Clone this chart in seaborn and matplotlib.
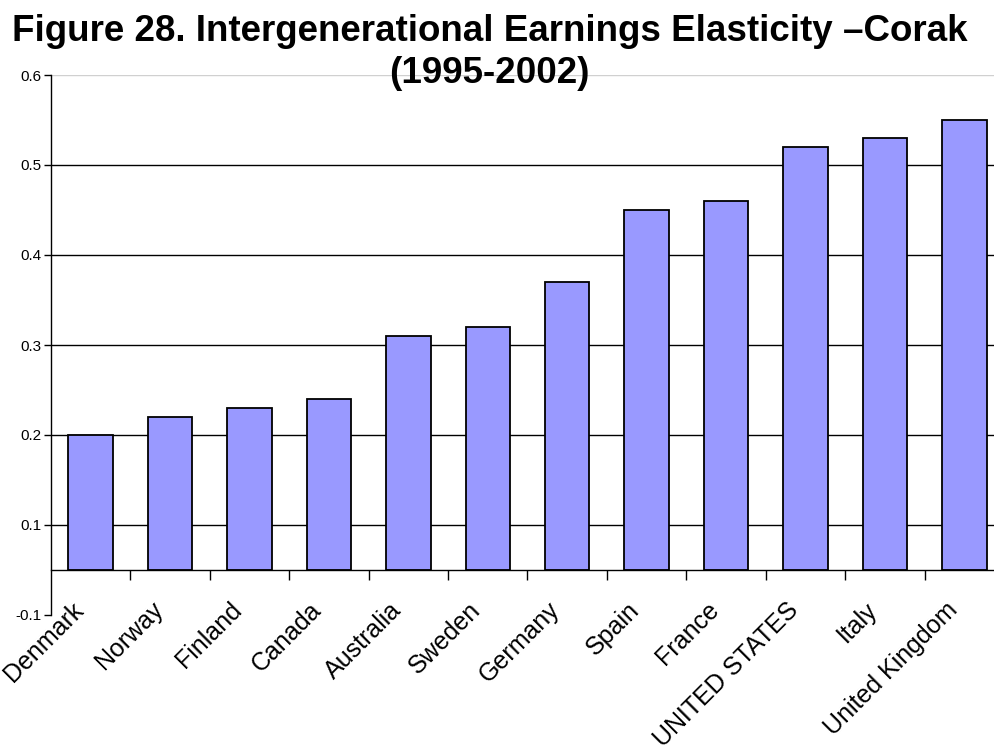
import matplotlib
matplotlib.use("Agg")
import matplotlib.pyplot as plt
import matplotlib.transforms as mtransforms
import seaborn as sns
import pandas as pd

countries = ["Denmark", "Norway", "Finland", "Canada", "Australia", "Sweden",
             "Germany", "Spain", "France", "UNITED STATES", "Italy", "United Kingdom"]
elasticity = [0.20, 0.22, 0.23, 0.24, 0.31, 0.32, 0.37, 0.45, 0.46, 0.52, 0.53, 0.55]
y_ticks = [0.0, 0.1, 0.2, 0.3, 0.4, 0.5, 0.6]
y_tick_labels = ["-0.1", "0.1", "0.2", "0.3", "0.4", "0.5", "0.6"]
baseline = 0.05
title_line1 = "Figure 28. Intergenerational Earnings Elasticity \u2013Corak"
title_line2 = "(1995-2002)"

sns.set_theme(style="white")
plt.rcParams['font.family'] = ['Liberation Sans', 'DejaVu Sans']

fig = plt.figure(figsize=(9.94, 7.45), dpi=100)
ax = fig.add_axes([50.8 / 994, 130 / 745, 953.4 / 994, 540 / 745])

df = pd.DataFrame({"country": countries, "value": elasticity})
sns.barplot(data=df, x="country", y="value", color="#9999FF", saturation=1,
            width=0.56, edgecolor="black", linewidth=1.3, ax=ax, zorder=3)
for p in ax.patches:
    top = p.get_y() + p.get_height()
    p.set_y(baseline)
    p.set_height(top - baseline)

ax.set_xlim(-0.5, len(countries) - 0.5)
ax.set_ylim(0.0, 0.6)

for yv in y_ticks[1:-1]:
    ax.axhline(yv, color="black", lw=1.0, zorder=1)
ax.axhline(0.6, color="#d0d0d0", lw=1.0, zorder=1)

for s in ["top", "right"]:
    ax.spines[s].set_visible(False)
ax.spines["left"].set_color("black")
ax.spines["left"].set_linewidth(1.0)
ax.spines["bottom"].set_color("black")
ax.spines["bottom"].set_linewidth(1.0)
ax.spines["bottom"].set_position(("data", baseline))
ax.spines["bottom"].set_zorder(4)

ax.set_yticks(y_ticks, y_tick_labels)
ax.tick_params(axis="y", left=True, length=5, width=1, color="black",
               direction="out", labelsize=11, pad=2, labelcolor="black")

ax.set_xticks(range(len(countries)))
ax.set_xticklabels(countries, rotation=45, ha="right", va="center",
                   rotation_mode="anchor", fontsize=18, color="black")
ax.set_xticks([i + 0.5 for i in range(len(countries))], minor=True)
ax.tick_params(axis="x", which="major", bottom=True, length=0, pad=26)
ax.tick_params(axis="x", which="minor", bottom=True, length=7, width=1,
               color="black", direction="out")
offset = mtransforms.ScaledTranslation(-11 / 100, 0, fig.dpi_scale_trans)
for lab in ax.get_xticklabels():
    lab.set_transform(lab.get_transform() + offset)

ax.set_xlabel("")
ax.set_ylabel("")

fig.text(490 / 994, 1 - 41 / 745, title_line1, ha="center", va="baseline",
         fontsize=26.5, fontweight="bold", color="black")
fig.text(489.5 / 994, 1 - 83 / 745, title_line2, ha="center", va="baseline",
         fontsize=26.5, fontweight="bold", color="black")

fig.savefig("out.png", dpi=100)
